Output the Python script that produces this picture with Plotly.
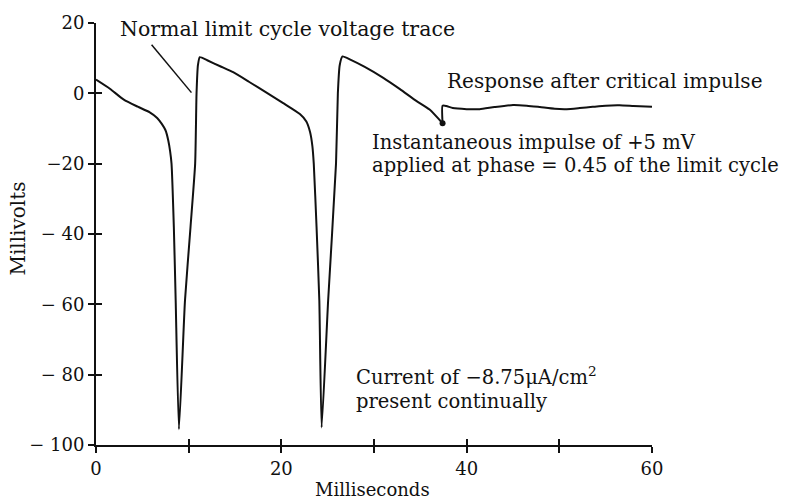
import plotly.graph_objects as go

# Membrane voltage trace (ms, mV): two normal limit cycles, then the
# +5 mV impulse at phase 0.45 and the damped response that follows.
time_ms = [
    0.0, 1.5, 3.0, 4.5, 5.8, 6.6, 7.1, 7.5, 7.8, 8.0, 8.15, 8.4, 8.6, 8.95,
    9.6, 10.2, 10.7, 10.85, 11.0, 11.2, 12.0, 13.4, 14.8, 16.5, 18.4,
    20.2, 22.0, 22.7, 23.1, 23.35, 23.5, 23.8, 24.1, 24.35,
    25.05, 25.9, 26.1, 26.3, 26.6, 27.5, 29.0, 31.0, 32.8, 34.6, 36.0, 37.4,
]
voltage_mv = [
    3.9, 1.3, -1.8, -3.8, -5.4, -7.0, -8.7, -10.5, -13.4, -16.5, -20.0, -38.0, -59.0, -95.5,
    -59.0, -38.0, -20.0, 0.0, 8.0, 10.3, 9.4, 7.7, 6.0, 3.3, 0.2,
    -2.8, -5.9, -8.0, -11.0, -15.0, -20.0, -38.0, -59.0, -95.0,
    -59.0, -20.0, 0.0, 8.0, 10.5, 9.5, 7.5, 4.4, 1.2, -2.2, -4.6, -8.5,
]

# Response after the +5 mV impulse
response_t = [37.4, 37.8, 38.5, 40.0, 41.4, 43.0, 45.0, 46.5, 47.9, 49.5,
              50.8, 52.2, 53.6, 55.0, 56.5, 58.0, 60.0]
response_v = [-3.5, -3.6, -4.2, -4.5, -4.5, -3.9, -3.3, -3.5, -3.9, -4.4,
              -4.5, -4.2, -3.85, -3.5, -3.4, -3.6, -3.85]

impulse_t = [37.4]
impulse_v = [-8.5]

# Leader line for the "normal limit cycle" label
leader_t = [6.0, 10.3]
leader_v = [13.8, 0.2]

x_ticks = [0, 20, 40, 60]
x_tick_text = ["0", "20", "40", "60"]
y_ticks = [20, 0, -20, -40, -60, -80, -100]
y_tick_text = ["20", "0", "\u221220", "\u2212 40", "\u2212 60", "\u2212 80", "\u2212 100"]

FONT = "DejaVu Serif"
INK = "#111111"
trace_line = dict(color=INK, width=2, shape="spline", smoothing=0.5)

fig = go.Figure()
fig.add_trace(go.Scatter(x=time_ms, y=voltage_mv, mode="lines",
                         line=trace_line, hoverinfo="skip"))
# vertical step of the impulse, then the response
fig.add_trace(go.Scatter(x=impulse_t + response_t, y=impulse_v + response_v,
                         mode="lines", line=trace_line, hoverinfo="skip"))
fig.add_trace(go.Scatter(x=leader_t, y=leader_v, mode="lines",
                         line=dict(color=INK, width=1.5), hoverinfo="skip"))
fig.add_trace(go.Scatter(x=impulse_t, y=impulse_v, mode="markers",
                         marker=dict(color=INK, size=6), hoverinfo="skip"))
# invisible carrier for the inner half of the crossing ticks
fig.add_trace(go.Scatter(x=[time_ms[0]], y=[voltage_mv[0]], mode="markers",
                         marker=dict(opacity=0), xaxis="x2", yaxis="y2",
                         hoverinfo="skip"))

axis_common = dict(showgrid=False, zeroline=False, showline=True,
                   linecolor=INK, linewidth=2, tickcolor=INK, tickwidth=1.5,
                   ticklen=6)
tick_font = dict(family=FONT, size=18, color=INK)
minor_out = dict(ticks="outside", dtick=10, tick0=0, ticklen=6, tickwidth=1.5,
                 tickcolor=INK, showgrid=False)
minor_in = dict(minor_out, ticks="inside")

fig.update_layout(
    width=787, height=504,
    margin=dict(l=96, r=135, t=18, b=59),
    paper_bgcolor="white", plot_bgcolor="white",
    showlegend=False,
    font=dict(family=FONT, size=18, color=INK),
    xaxis=dict(range=[0, 60], tickmode="array", tickvals=x_ticks,
               ticktext=x_tick_text, ticks="outside", tickfont=tick_font,
               minor=minor_out, **axis_common),
    yaxis=dict(range=[-100, 20], tickmode="array", tickvals=y_ticks,
               ticktext=y_tick_text, ticks="outside", tickfont=tick_font,
               **axis_common),
    xaxis2=dict(range=[0, 60], overlaying="x", tickmode="array",
                tickvals=x_ticks, ticks="inside", showticklabels=False,
                minor=minor_in, **axis_common),
    yaxis2=dict(range=[-100, 20], overlaying="y", tickmode="array",
                tickvals=y_ticks, ticks="inside", showticklabels=False,
                **axis_common),
)

notes = [
    dict(x=2.4, y=18.3, text="Normal limit cycle voltage trace", size=20.5),
    dict(x=37.7, y=3.4, text="Response after critical impulse", size=20),
    dict(x=29.6, y=-13.9, text="Instantaneous impulse of +5 mV", size=19.5),
    dict(x=29.6, y=-20.5, text="applied at phase = 0.45 of the limit cycle", size=19.5),
    dict(x=27.85, y=-80.4, text="Current of \u22128.75\u03bcA/cm<sup>2</sup>", size=19.5),
    dict(x=27.85, y=-87.6, text="present continually", size=19.5),
]
for n in notes:
    fig.add_annotation(x=n["x"], y=n["y"], text=n["text"], xref="x", yref="y",
                       xanchor="left", yanchor="middle", showarrow=False,
                       font=dict(family=FONT, size=n["size"], color=INK))

fig.add_annotation(text="Milliseconds", xref="paper", yref="paper",
                   x=(372 - 96) / 556, y=-(490 - 445) / 427,
                   xanchor="center", yanchor="middle", showarrow=False,
                   font=dict(family=FONT, size=18, color=INK))
fig.add_annotation(text="Millivolts", xref="paper", yref="paper",
                   x=-(96 - 18) / 556, y=(445 - 226) / 427, textangle=-90,
                   xanchor="center", yanchor="middle", showarrow=False,
                   font=dict(family=FONT, size=20, color=INK))

fig.write_html("out.html")
